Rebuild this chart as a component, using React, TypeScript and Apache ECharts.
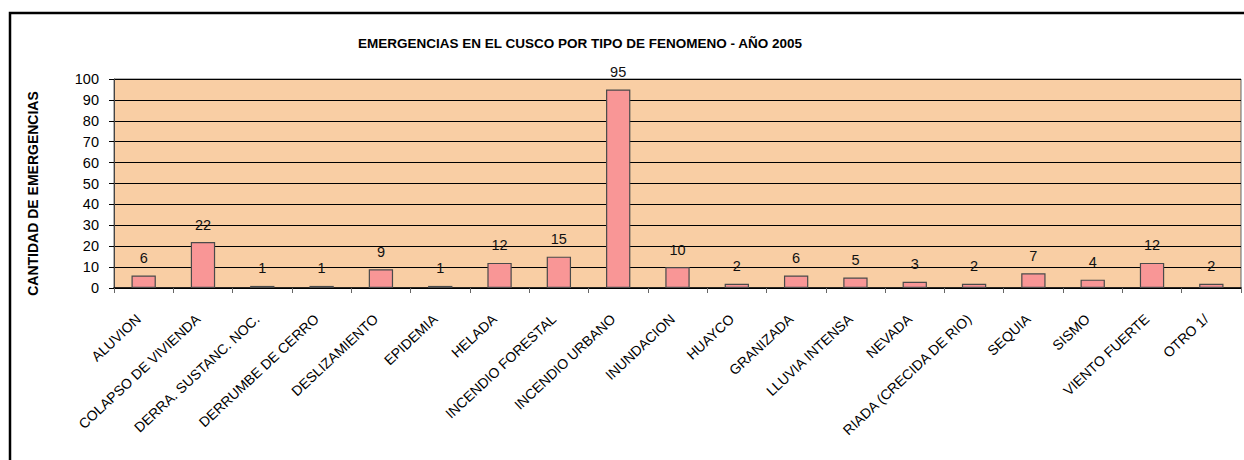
import React, { useEffect, useRef } from "react";
import * as echarts from "echarts";

const categories = [
  "ALUVION",
  "COLAPSO DE VIVIENDA",
  "DERRA. SUSTANC. NOC.",
  "DERRUMBE DE CERRO",
  "DESLIZAMIENTO",
  "EPIDEMIA",
  "HELADA",
  "INCENDIO FORESTAL",
  "INCENDIO URBANO",
  "INUNDACION",
  "HUAYCO",
  "GRANIZADA",
  "LLUVIA INTENSA",
  "NEVADA",
  "RIADA (CRECIDA DE RIO)",
  "SEQUIA",
  "SISMO",
  "VIENTO FUERTE",
  "OTRO 1/",
];
const emergencias = [6, 22, 1, 1, 9, 1, 12, 15, 95, 10, 2, 6, 5, 3, 2, 7, 4, 12, 2];
const titleText = "EMERGENCIAS EN EL CUSCO POR TIPO DE FENOMENO - AÑO 2005";
const yAxisTitle = "CANTIDAD DE EMERGENCIAS";

const FONT = "'Liberation Sans', Arial, sans-serif";

export default function App() {
  const ref = useRef<HTMLDivElement>(null);
  useEffect(() => {
    if (!ref.current) return;
    const chart = echarts.init(ref.current, null, { renderer: "svg" });
    chart.setOption({
      animation: false,
      backgroundColor: "#ffffff",
      textStyle: { fontFamily: FONT },
      title: {
        text: titleText,
        left: 575,
        top: 31,
        textAlign: "center",
        textStyle: { fontFamily: FONT, fontSize: 13.5, fontWeight: "bold", color: "#000" },
      },
      graphic: [
        {
          type: "rect",
          shape: { x: 10, y: 13, width: 1400, height: 600 },
          style: { fill: "none", stroke: "#000", lineWidth: 2.5 },
          silent: true,
        },
      ],
      grid: {
        left: 114,
        top: 79,
        right: 3,
        bottom: 172,
        show: true,
        backgroundColor: "#F9CEA4",
        borderColor: "#666",
        borderWidth: 1,
      },
      xAxis: {
        type: "category",
        data: categories,
        axisLine: { lineStyle: { color: "#000", width: 1.5 } },
        axisTick: { show: true, length: 5, alignWithLabel: false, lineStyle: { color: "#666" } },
        axisLabel: {
          rotate: 43,
          interval: 0,
          margin: 24,
          padding: [0, 7, 0, 0],
          fontSize: 14,
          fontFamily: FONT,
          color: "#000",
        },
      },
      yAxis: {
        type: "value",
        min: 0,
        max: 100,
        interval: 10,
        name: yAxisTitle,
        nameLocation: "middle",
        nameGap: 74,
        nameRotate: 90,
        nameTextStyle: { fontFamily: FONT, fontSize: 14, fontWeight: "bold", color: "#000", padding: [0, 0, 0, -20] },
        axisLine: { show: true, lineStyle: { color: "#444", width: 1 } },
        axisTick: { show: true, length: 5, lineStyle: { color: "#000" } },
        axisLabel: { margin: 15, fontSize: 14.5, fontFamily: FONT, color: "#000" },
        splitLine: { show: true, lineStyle: { color: "#000", width: 1 } },
      },
      series: [
        {
          type: "bar",
          data: emergencias,
          barWidth: "41%",
          itemStyle: { color: "#F99696", borderColor: "#4a4a4a", borderWidth: 1.2 },
          label: {
            show: true,
            position: "top",
            distance: 10,
            fontSize: 14.5,
            fontFamily: FONT,
            color: "#111",
          },
        },
      ],
    });
    return () => chart.dispose();
  }, []);
  return (
    <div
      ref={ref}
      style={{ position: "fixed", left: 0, top: 0, width: 1244, height: 460, background: "#fff" }}
    />
  );
}
